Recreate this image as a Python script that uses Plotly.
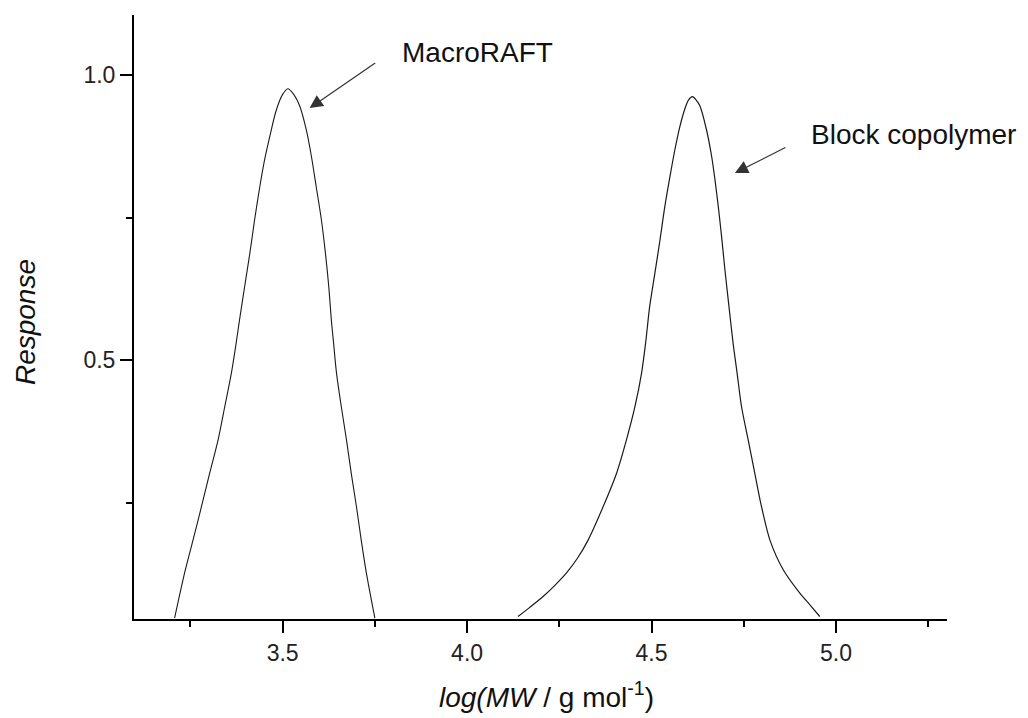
import plotly.graph_objects as go

# MacroRAFT trace
macro_x = [3.207, 3.234, 3.257, 3.280, 3.302, 3.325, 3.343, 3.361, 3.374, 3.383, 3.397, 3.411,
           3.424, 3.438, 3.451, 3.465, 3.483, 3.500, 3.514, 3.530, 3.546, 3.564, 3.578, 3.591,
           3.605, 3.616, 3.625, 3.632, 3.638, 3.646, 3.659, 3.673, 3.686, 3.700, 3.713, 3.727, 3.750]
macro_y = [0.047, 0.126, 0.184, 0.243, 0.301, 0.360, 0.418, 0.477, 0.530, 0.570, 0.629, 0.687,
           0.746, 0.804, 0.851, 0.892, 0.939, 0.966, 0.976, 0.966, 0.946, 0.904, 0.857, 0.804,
           0.746, 0.687, 0.629, 0.570, 0.530, 0.477, 0.418, 0.360, 0.301, 0.243, 0.184, 0.126, 0.047]

# Block copolymer trace
block_x = [4.138, 4.170, 4.206, 4.240, 4.269, 4.300, 4.328, 4.369, 4.405, 4.432, 4.455, 4.473,
           4.484, 4.495, 4.509, 4.523, 4.536, 4.550, 4.563, 4.577, 4.590, 4.600, 4.611, 4.621,
           4.631, 4.649, 4.663, 4.672, 4.681, 4.690, 4.699, 4.708, 4.721, 4.732, 4.744, 4.762,
           4.780, 4.798, 4.821, 4.857, 4.902, 4.930, 4.956]
block_y = [0.050, 0.066, 0.085, 0.106, 0.126, 0.153, 0.184, 0.243, 0.301, 0.360, 0.418, 0.477,
           0.530, 0.594, 0.652, 0.711, 0.769, 0.822, 0.868, 0.910, 0.940, 0.956, 0.962, 0.956,
           0.946, 0.904, 0.857, 0.816, 0.769, 0.716, 0.658, 0.605, 0.530, 0.477, 0.418, 0.360,
           0.301, 0.243, 0.184, 0.132, 0.091, 0.070, 0.050]

x_major = [3.5, 4.0, 4.5, 5.0]
x_labels = ["3.5", "4.0", "4.5", "5.0"]
x_minor = [3.25, 3.75, 4.25, 4.75, 5.25]
y_major = [0.5, 1.0]
y_labels = ["0.5", "1.0"]
y_minor = [0.25, 0.75]

FONT = "Liberation Sans, Arial, sans-serif"
LINE = "#1a1a1a"

fig = go.Figure()
fig.add_trace(go.Scatter(x=macro_x, y=macro_y, mode="lines",
                         line=dict(color=LINE, width=1.1, shape="spline", smoothing=0.8),
                         showlegend=False))
fig.add_trace(go.Scatter(x=block_x, y=block_y, mode="lines",
                         line=dict(color=LINE, width=1.2, shape="spline", smoothing=0.8),
                         showlegend=False))

axis_common = dict(showline=True, linecolor="black", linewidth=2, ticks="outside",
                   ticklen=12, tickwidth=2, tickcolor="black", showgrid=False, zeroline=False,
                   tickfont=dict(family=FONT, size=23, color="#222"))

fig.update_xaxes(range=[3.097, 5.301], tickmode="array", tickvals=x_major, ticktext=x_labels,
                 minor=dict(tickmode="array", tickvals=x_minor, ticks="outside", ticklen=6,
                            tickwidth=2, tickcolor="black", showgrid=False),
                 **axis_common)
fig.update_yaxes(range=[0.0456, 1.1053], tickmode="array", tickvals=y_major, ticktext=y_labels,
                 minor=dict(tickmode="array", tickvals=y_minor, ticks="outside", ticklen=6,
                            tickwidth=2, tickcolor="black", showgrid=False),
                 **axis_common)

ann_font = dict(family=FONT, size=28, color="#111")
fig.add_annotation(x=4.029, y=1.039, text="MacroRAFT", showarrow=False, font=ann_font)
fig.add_annotation(x=5.211, y=0.895, text="Block copolymer", showarrow=False, font=ann_font)
fig.add_annotation(x=3.573, y=0.942, ax=3.755, ay=1.023, axref="x", ayref="y", text="",
                   showarrow=True, arrowhead=2, arrowsize=2.2, arrowwidth=1.2, arrowcolor="#333")
fig.add_annotation(x=4.726, y=0.828, ax=4.867, ay=0.874, axref="x", ayref="y", text="",
                   showarrow=True, arrowhead=2, arrowsize=2.2, arrowwidth=1.2, arrowcolor="#333")

# axis titles
fig.add_annotation(xref="paper", yref="paper", x=0.5071, y=-0.1258, text="<i>log(MW</i> / g mol<sup>-1</sup>)",
                   showarrow=False, font=ann_font, xanchor="center", yanchor="middle")
fig.add_annotation(xref="paper", yref="paper", x=-0.134, y=0.4917, text="<i>Response</i>",
                   showarrow=False, font=ann_font, textangle=-90, xanchor="center", yanchor="middle")

fig.update_layout(width=1028, height=718, margin=dict(l=134, r=81, t=15, b=99),
                  plot_bgcolor="white", paper_bgcolor="white", showlegend=False)

fig.write_html("out.html")
